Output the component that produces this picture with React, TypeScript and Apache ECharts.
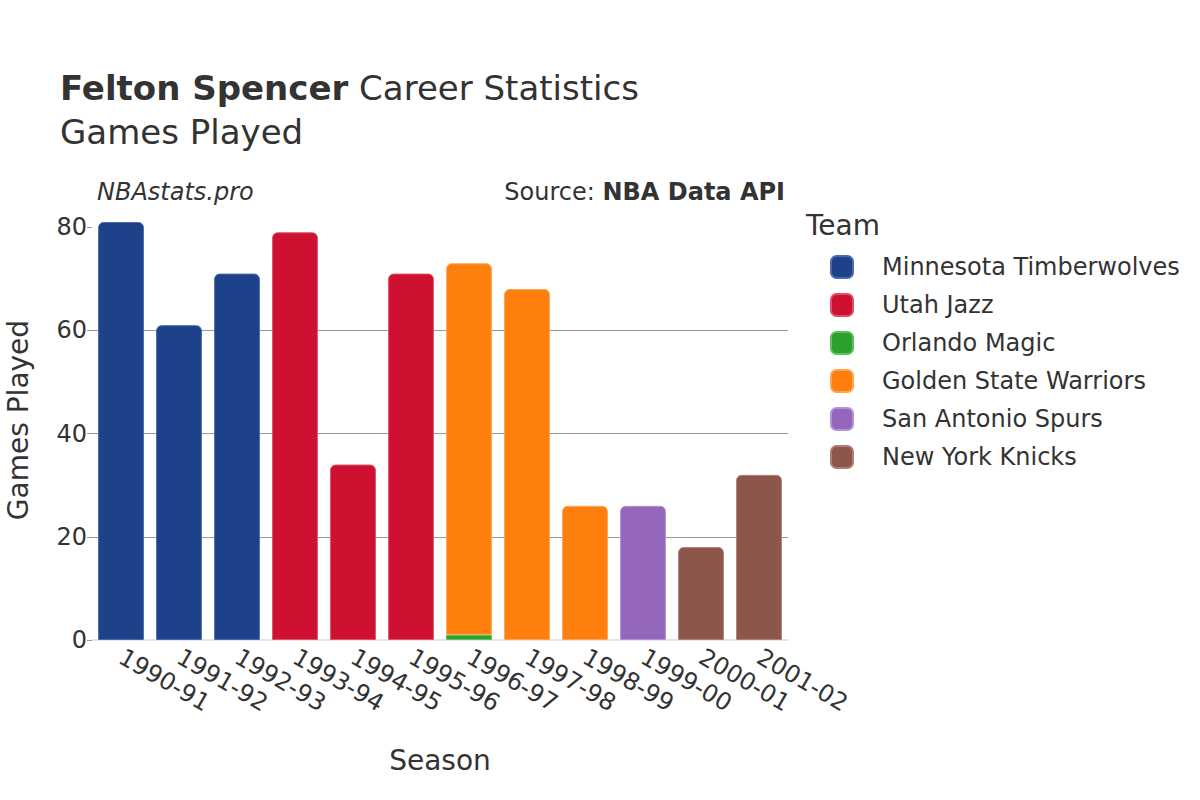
import React, { useEffect, useRef } from "react";
import * as echarts from "echarts";

const seasons = ["1990-91", "1991-92", "1992-93", "1993-94", "1994-95", "1995-96", "1996-97", "1997-98", "1998-99", "1999-00", "2000-01", "2001-02"];
const teams = ["Minnesota Timberwolves", "Utah Jazz", "Orlando Magic", "Golden State Warriors", "San Antonio Spurs", "New York Knicks"];
const teamColors = ["#1d428a", "#ce1131", "#2ca02c", "#ff7f0e", "#9467bd", "#8c564b"];
const teamBorders = ["#4a6aab", "#e0506a", "#5cc05c", "#ffa552", "#b393d5", "#ad7f75"];
const minnesota = [81, 61, 71, null, null, null, null, null, null, null, null, null];
const utah = [null, null, null, 79, 34, 71, null, null, null, null, null, null];
const orlando = [null, null, null, null, null, null, 1, null, null, null, null, null];
const goldenState = [null, null, null, null, null, null, 72, 68, 26, null, null, null];
const sanAntonio = [null, null, null, null, null, null, null, null, null, 26, null, null];
const newYork = [null, null, null, null, null, null, null, null, null, null, 18, 32];
const teamValues = [minnesota, utah, orlando, goldenState, sanAntonio, newYork];
const yTicks = [0, 20, 40, 60, 80];

const FONT = "DejaVu Sans";

export default function App() {
  const ref = useRef<HTMLDivElement>(null);
  useEffect(() => {
    const chart = echarts.init(ref.current!, undefined, { renderer: "svg" });
    const series = teams.map((name, i) => ({
      name,
      type: "bar",
      stack: "total",
      barWidth: "79%",
      data: teamValues[i],
      itemStyle: {
        color: teamColors[i],
        borderColor: teamBorders[i],
        borderWidth: 1,
        borderRadius: name === "Orlando Magic" ? 0 : [5, 5, 0, 0],
      },
    }));
    chart.setOption({
      animation: false,
      textStyle: { fontFamily: FONT },
      grid: { left: 92, right: 412, top: 200, bottom: 160, containLabel: false, outerBoundsMode: "none" },
      graphic: [
        {
          type: "text", left: 60, top: 71,
          style: {
            text: "{b|Felton Spencer} Career Statistics",
            fontFamily: FONT, fontSize: 34, fill: "#333",
            rich: { b: { fontFamily: FONT, fontSize: 34, fontWeight: "bold", fill: "#333" } },
          },
        },
        { type: "text", left: 60, top: 115, style: { text: "Games Played", fontFamily: FONT, fontSize: 34, fill: "#333" } },
        { type: "text", left: 97, top: 180, style: { text: "NBAstats.pro", fontFamily: FONT, fontSize: 24, fontStyle: "italic", fill: "#333" } },
        {
          type: "text", right: 415, top: 180,
          style: {
            text: "Source: {b|NBA Data API}", fontFamily: FONT, fontSize: 24, fill: "#333",
            rich: { b: { fontFamily: FONT, fontSize: 24, fontWeight: "bold", fill: "#333" } },
          },
        },
        { type: "text", left: 806, top: 211, style: { text: "Team", fontFamily: FONT, fontSize: 28, fill: "#333" } },
      ],
      legend: {
        orient: "vertical",
        left: 825,
        top: 250,
        itemWidth: 22,
        itemHeight: 22,
        itemGap: 14,
        icon: "roundRect",
        data: teams,
        textStyle: { fontFamily: FONT, fontSize: 24, color: "#333", padding: [0, 0, 0, 24] },
      },
      xAxis: {
        type: "category",
        data: seasons,
        name: "Season",
        nameLocation: "middle",
        nameGap: 106,
        nameTextStyle: { fontFamily: FONT, fontSize: 28, color: "#333" },
        axisLine: { show: true, lineStyle: { color: "#e5e5e5", width: 2 } },
        axisTick: { show: false },
        axisLabel: { rotate: -30, interval: 0, fontFamily: FONT, fontSize: 24, color: "#333", margin: 15 },
      },
      yAxis: {
        type: "value",
        min: 0,
        max: 85.26,
        interval: 20,
        name: "Games Played",
        nameLocation: "middle",
        nameGap: 60,
        nameTextStyle: { fontFamily: FONT, fontSize: 28, color: "#333" },
        axisLine: { show: false },
        axisTick: { show: true, customValues: yTicks, length: 5, lineStyle: { color: "#999" } },
        axisLabel: { customValues: yTicks, fontFamily: FONT, fontSize: 24, color: "#333", margin: 5 },
        splitLine: { show: true, showMinLine: false, showMaxLine: false, lineStyle: { color: "#999", width: 1 } },
      },
      series,
    });
    return () => chart.dispose();
  }, []);
  return <div ref={ref} style={{ width: 1200, height: 800, position: "absolute", left: 0, top: 0 }} />;
}
